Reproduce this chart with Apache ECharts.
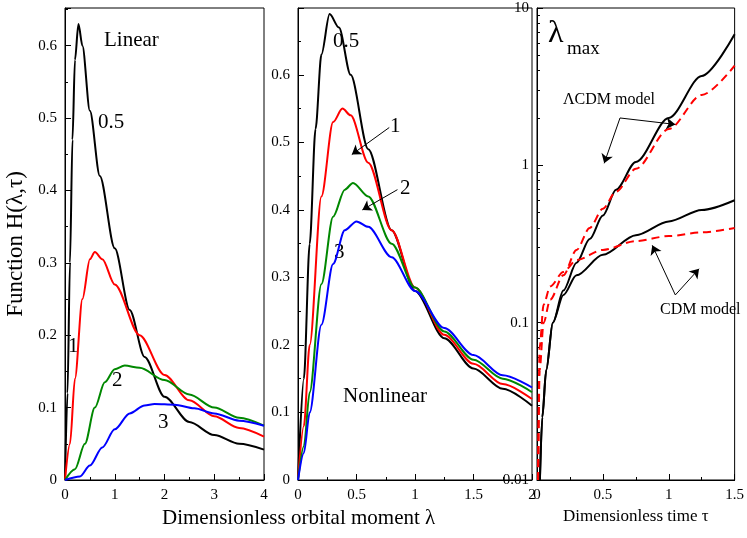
<!DOCTYPE html>
<html><head><meta charset="utf-8">
<script src="https://cdn.jsdelivr.net/npm/echarts@6/dist/echarts.min.js"></script>
<style>body{margin:0}#c{width:747px;height:538px}</style></head>
<body><div id="c"></div>
<script>
// panel 1: linear regime, [lambda, H]
const lin05 = [[0,0],[0.05,0.12],[0.1,0.3],[0.15,0.47],[0.2,0.58],[0.27,0.63],[0.35,0.6],[0.5,0.51],[0.7,0.42],[1,0.32],[1.3,0.235],[1.6,0.17],[2,0.115],[2.5,0.08],[3,0.062],[3.5,0.05],[4,0.042]];
const lin1 = [[0,0],[0.1,0.05],[0.2,0.14],[0.35,0.25],[0.5,0.305],[0.6,0.315],[0.75,0.305],[1,0.27],[1.5,0.2],[2,0.145],[2.5,0.11],[3,0.088],[3.5,0.072],[4,0.06]];
const lin2 = [[0,0],[0.2,0.015],[0.4,0.05],[0.6,0.1],[0.8,0.135],[1,0.153],[1.2,0.158],[1.5,0.155],[2,0.138],[2.5,0.118],[3,0.1],[3.5,0.086],[4,0.075]];
const lin3 = [[0,0],[0.3,0.005],[0.5,0.02],[0.75,0.045],[1,0.07],[1.3,0.092],[1.6,0.103],[1.8,0.105],[2.2,0.104],[2.6,0.099],[3,0.092],[3.5,0.082],[4,0.075]];
// panel 2: nonlinear regime
const non05 = [[0,0],[0.05,0.15],[0.1,0.35],[0.15,0.52],[0.2,0.63],[0.27,0.69],[0.35,0.67],[0.45,0.6],[0.6,0.49],[0.8,0.37],[1,0.28],[1.25,0.21],[1.5,0.165],[1.75,0.135],[2,0.11]];
const non1 = [[0,0],[0.05,0.08],[0.1,0.2],[0.2,0.42],[0.3,0.53],[0.38,0.55],[0.45,0.54],[0.6,0.47],[0.8,0.37],[1,0.285],[1.25,0.215],[1.5,0.172],[1.75,0.142],[2,0.12]];
const non2 = [[0,0],[0.05,0.05],[0.1,0.13],[0.2,0.29],[0.3,0.39],[0.4,0.43],[0.47,0.44],[0.6,0.42],[0.8,0.35],[1,0.285],[1.25,0.22],[1.5,0.178],[1.75,0.15],[2,0.13]];
const non3 = [[0,0],[0.05,0.04],[0.1,0.1],[0.2,0.23],[0.3,0.32],[0.4,0.37],[0.5,0.383],[0.6,0.375],[0.8,0.33],[1,0.28],[1.25,0.225],[1.5,0.185],[1.75,0.155],[2,0.137]];
// panel 3: lambda_max vs tau
const lcdmBlack = [[0.022,0.01],[0.04,0.025],[0.07,0.05],[0.12,0.1],[0.2,0.16],[0.3,0.24],[0.4,0.34],[0.5,0.48],[0.6,0.7],[0.75,1.05],[1,2.0],[1.25,3.7],[1.5,6.8]];
const cdmBlack = [[0.022,0.01],[0.04,0.025],[0.07,0.05],[0.12,0.1],[0.2,0.15],[0.3,0.2],[0.5,0.27],[0.75,0.36],[1,0.44],[1.25,0.52],[1.5,0.6]];
const lcdmRed = [[0.008,0.01],[0.02,0.05],[0.05,0.1],[0.1,0.14],[0.2,0.2],[0.3,0.29],[0.4,0.4],[0.5,0.53],[0.6,0.68],[0.75,0.95],[1,1.7],[1.25,2.8],[1.5,4.3]];
const cdmRed = [[0.008,0.01],[0.02,0.07],[0.05,0.13],[0.1,0.17],[0.2,0.21],[0.3,0.25],[0.5,0.29],[0.75,0.33],[1,0.355],[1.25,0.375],[1.5,0.4]];

const F = 'Liberation Serif';
const tl = {fontFamily:F,fontSize:15,color:'#000'};
function xAx(i,max,iv){return {gridIndex:i,type:'value',min:0,max:max,interval:iv,
  axisLine:{lineStyle:{color:'#000'}},axisTick:{inside:true,length:6,lineStyle:{color:'#000'}},
  minorTick:{show:true,splitNumber:2,length:3,lineStyle:{color:'#000'}},
  axisLabel:Object.assign({formatter:v=>String(v)},tl),splitLine:{show:false}};}
function yAx(i,max){return {gridIndex:i,type:'value',min:0,max:max,interval:0.1,
  axisLine:{lineStyle:{color:'#000'}},axisTick:{inside:true,length:6,lineStyle:{color:'#000'}},
  minorTick:{show:true,splitNumber:2,length:3,lineStyle:{color:'#000'}},
  axisLabel:Object.assign({showMaxLabel:false,formatter:v=>String(+v.toFixed(2))},tl),splitLine:{show:false}};}
function ln(i,d,c,dash){return {type:'line',xAxisIndex:i,yAxisIndex:i,data:d,smooth:0.3,smoothMonotone:'x',showSymbol:false,
  lineStyle:{color:c,width:2,type:dash?[8,5]:'solid'},z:3};}
function arrows(pairs){return {symbol:['none','arrow'],symbolSize:9,silent:true,label:{show:false},
  lineStyle:{color:'#000',width:1,type:'solid'},
  data:pairs.map(p=>[{coord:p[0]},{coord:p[1]}])};}

const s = [
  ln(0,lin05,'#000'),ln(0,lin1,'#f00'),ln(0,lin2,'#080'),ln(0,lin3,'#00f'),
  ln(1,non05,'#000'),ln(1,non1,'#f00'),ln(1,non2,'#080'),ln(1,non3,'#00f'),
  ln(2,lcdmBlack,'#000'),ln(2,cdmBlack,'#000'),ln(2,lcdmRed,'#f00',true),ln(2,cdmRed,'#f00',true)
];
s[4].markLine = arrows([[[0.78,0.522],[0.46,0.482]],[[0.85,0.43],[0.55,0.40]]]);
s[8].markLine = arrows([[[0.63,2.0],[0.51,1.03]],[[0.63,2.0],[1.05,1.82]]]);
s[9].markLine = arrows([[[1.05,0.15],[0.875,0.31]],[[1.05,0.15],[1.23,0.22]]]);

const txt = (x,y,t,sz)=>({type:'text',left:x,top:y,style:{text:t,font:(sz||20)+'px '+F,fill:'#000'}});
const chart = echarts.init(document.getElementById('c'));
chart.setOption({
  animation:false,backgroundColor:'#fff',
  grid:[
    {left:65,top:8,width:199,height:472,show:true,borderColor:'#000',borderWidth:1},
    {left:298,top:8,width:234,height:472,show:true,borderColor:'#000',borderWidth:1},
    {left:537,top:8,width:204,height:472,show:true,borderColor:'#000',borderWidth:1}
  ],
  xAxis:[xAx(0,4,1),xAx(1,2,0.5),
    Object.assign(xAx(2,1.5,0.5),{name:'Dimensionless time τ',nameLocation:'middle',nameGap:22,
      nameTextStyle:{fontFamily:F,fontSize:17,color:'#000'}})],
  yAxis:[Object.assign(yAx(0,0.652),{name:'Function H(λ,τ)',nameLocation:'middle',nameGap:38,
      nameTextStyle:{fontFamily:F,fontSize:23,color:'#000'}}),
    yAx(1,0.699),
    {gridIndex:2,type:'log',min:0.01,max:10,logBase:10,
     axisLine:{lineStyle:{color:'#000'}},axisTick:{inside:true,length:6,lineStyle:{color:'#000'}},
     minorTick:{show:true,splitNumber:9,length:3,lineStyle:{color:'#000'}},
     axisLabel:Object.assign({formatter:v=>String(+(+v).toPrecision(2))},tl),splitLine:{show:false}}],
  series:s,
  graphic:[
    txt(104,30,'Linear',21),txt(98,112,'0.5',21),txt(68,336,'1',21),txt(112,370,'2',21),txt(158,412,'3',21),
    txt(333,31,'0.5',21),txt(390,116,'1',21),txt(400,178,'2',21),txt(334,242,'3',21),txt(343,386,'Nonlinear',21),
    txt(548,18,'λ',32),txt(567,40,'max',19),
    txt(563,92,'ΛCDM model',16),txt(660,302,'CDM model',16),
    txt(162,508,'Dimensionless orbital moment λ',21)
  ]
});
</script></body></html>
